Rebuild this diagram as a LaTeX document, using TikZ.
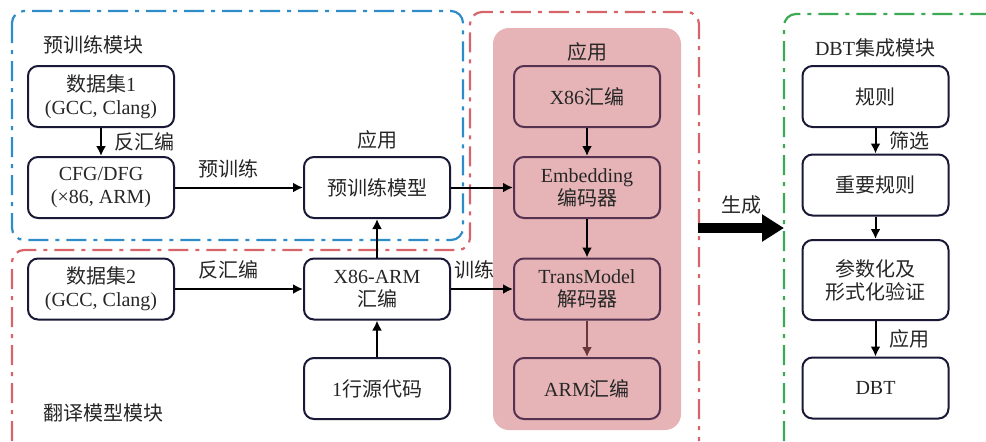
\documentclass[tikz,border=0pt]{standalone}
\usepackage{fontspec}
\setmainfont{Liberation Serif}
\newfontfamily\cjk{Noto Sans CJK SC}
\usepackage{tikz}
\usetikzlibrary{arrows.meta, positioning}

\definecolor{navyline}{RGB}{25,25,55}
\definecolor{plumline}{RGB}{85,50,80}
\definecolor{brownline}{RGB}{105,55,55}
\definecolor{bluefrm}{RGB}{46,140,200}
\definecolor{redfrm}{RGB}{215,100,105}
\definecolor{greenfrm}{RGB}{60,170,85}
\definecolor{pinkfill}{RGB}{230,180,182}

\begin{document}
\begin{tikzpicture}[x=0.5pt, y=-0.5pt, >={Latex[length=5pt,width=5pt]}, font=\fontsize{10}{11.5}\selectfont,
  box/.style={draw=navyline, line width=1pt, rounded corners=5pt, minimum width=73pt, minimum height=30.5pt, align=center, text=black!85},
  pbox/.style={box, draw=plumline},
  frame/.style={line width=1.1pt, rounded corners=6pt, dash pattern=on 10pt off 3.5pt on 2pt off 3.5pt},
  lab/.style={text=black!85}]
  \useasboundingbox (0,0) rectangle (986,441);

  % module frames
  \fill[pinkfill, rounded corners=8pt] (493,28) rectangle (681,430);
  \draw[frame, draw=bluefrm] (12,11) rectangle (463,240);
  \draw[frame, draw=redfrm] (12,441) -- (12,250) -- (470,250) -- (470,12) -- (699,12) -- (699,441);
  \draw[frame, draw=greenfrm] (784,441) -- (784,14) -- (990,14);

  \node[lab, anchor=west, inner sep=0] (pretitle) at (43,45) {\cjk 预训练模块};
  \node[lab, anchor=west, inner sep=0] (transtitle) at (43,413) {\cjk 翻译模型模块};
  \node[lab] (dbttitle) at (875,48) {DBT{\cjk 集成模块}};
  \node[lab] (app2) at (587,52) {\cjk 应用};

  % left part
  \node[box] (ds1) at (101,96.5) {{\cjk 数据集}1\\(GCC, Clang)};
  \node[box] (cfg) at (101,187.5) {CFG/DFG\\(×86, ARM)};
  \node[box] (ptm) at (377,187.5) {\cjk 预训练模型};
  \node[lab, above=0pt of ptm] (app1) {\cjk 应用};
  \node[box] (ds2) at (101,289) {{\cjk 数据集}2\\(GCC, Clang)};
  \node[box] (xa) at (377,289) {X86-ARM\\{\cjk 汇编}};
  \node[box] (src) at (377,388.5) {1{\cjk 行源代码}};

  % model
  \node[pbox] (x86) at (587,96.5) {X86{\cjk 汇编}};
  \node[pbox] (enc) at (587,187.5) {Embedding\\{\cjk 编码器}};
  \node[pbox] (dec) at (587,289) {TransModel\\{\cjk 解码器}};
  \node[pbox] (arm) at (587,388.5) {ARM{\cjk 汇编}};

  % DBT
  \node[box] (rule) at (875.5,96.5) {\cjk 规则};
  \node[box] (keyrule) at (875.5,185) {\cjk 重要规则};
  \node[box, minimum height=40pt] (verify) at (875.5,280) {{\cjk 参数化及}\\{\cjk 形式化验证}};
  \node[box] (dbt) at (875.5,388) {DBT};

  \draw[->, line width=1pt] (ds1) -- node[lab, right=3pt] {\cjk 反汇编} (cfg);
  \draw[->, line width=1pt] (cfg) -- node[lab, above=1pt, pos=0.42] {\cjk 预训练} (ptm);
  \draw[->, line width=1pt] (ptm) -- (enc);
  \draw[->, line width=1pt] (ds2) -- node[lab, above=1pt, pos=0.42] {\cjk 反汇编} (xa);
  \draw[->, line width=1pt] (xa) -- node[lab, above=1pt, pos=0.38] {\cjk 训练} (dec);
  \draw[->, line width=1pt] (xa) -- (ptm);
  \draw[->, line width=1pt] (src) -- (xa);
  \draw[->, line width=1pt] (x86) -- (enc);
  \draw[->, line width=1pt] (enc) -- (dec);
  \draw[->, line width=1pt, draw=brownline] (dec) -- (arm);
  \draw[->, line width=1pt] (rule) -- node[lab, right=3pt] {\cjk 筛选} (keyrule);
  \draw[->, line width=1pt] (keyrule) -- (verify);
  \draw[->, line width=1pt] (verify) -- node[lab, right=3pt] {\cjk 应用} (dbt);

  \coordinate (genS) at (698,228);
  \coordinate (genE) at (784,228);
  \draw[line width=5pt, -{Triangle[length=11pt,width=13pt]}] (genS) -- node[lab, above=1pt] {\cjk 生成} (genE);
\end{tikzpicture}
\end{document}
